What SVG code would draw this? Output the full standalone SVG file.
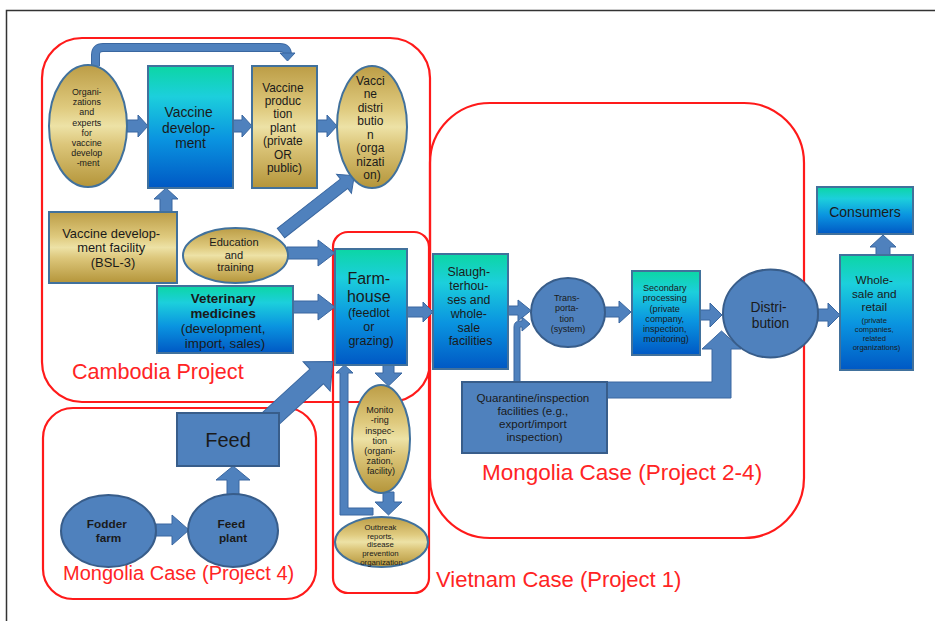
<svg xmlns="http://www.w3.org/2000/svg" width="935" height="621" viewBox="0 0 935 621">
  <defs>
    <linearGradient id="gTeal" x1="0" y1="0" x2="0" y2="1">
      <stop offset="0" stop-color="#0cd6a4"/>
      <stop offset="0.25" stop-color="#1ccfdc"/>
      <stop offset="0.6" stop-color="#0a94e0"/>
      <stop offset="1" stop-color="#0058c4"/>
    </linearGradient>
    <linearGradient id="gGold" x1="0" y1="0" x2="0" y2="1">
      <stop offset="0" stop-color="#bc9d46"/>
      <stop offset="0.35" stop-color="#dfca7e"/>
      <stop offset="0.5" stop-color="#ede2a6"/>
      <stop offset="0.65" stop-color="#dcc67a"/>
      <stop offset="1" stop-color="#b4953a"/>
    </linearGradient>
    <style>
      .frame { fill: none; stroke: #ff1a1a; stroke-width: 2.2; }
      .teal { fill: url(#gTeal); stroke: #41719c; stroke-width: 2; }
      .gold { fill: url(#gGold); stroke: #41719c; stroke-width: 2; }
      .blue { fill: #4f81bd; stroke: #385d8a; stroke-width: 2; }
      .arrow { fill: #4f81bd; stroke: #3a67a0; stroke-width: 1; }
      .t { font-family: "Liberation Sans", Arial, sans-serif; fill: #1a1a1a; text-anchor: middle; }
      .b { font-weight: bold; }
      .lbl { font-family: "Liberation Sans", Arial, sans-serif; fill: #ff2424; }
    </style>
  </defs>

  <rect width="935" height="621" fill="#ffffff"/>
  <!-- page border (top and left only) -->
  <path d="M6.5,621 V10.5 H935" fill="none" stroke="#333333" stroke-width="1.5"/>

  <!-- project / case frames -->
  <g id="frames">
    <rect class="frame" x="42" y="38" width="388" height="364" rx="40"/>
    <rect class="frame" x="333" y="232" width="96" height="361" rx="15"/>
    <rect class="frame" x="430" y="103" width="374" height="435" rx="60"/>
    <rect class="frame" x="43" y="408" width="273" height="191" rx="30"/>
    <text class="lbl" x="72" y="378.5" font-size="21.6">Cambodia Project</text>
    <text class="lbl" x="63" y="580" font-size="20">Mongolia Case (Project 4)</text>
    <text class="lbl" x="482" y="480" font-size="22.5">Mongolia Case (Project 2-4)</text>
    <text class="lbl" x="436" y="587" font-size="22">Vietnam Case (Project 1)</text>
  </g>

  <!-- connectors -->
  <g id="connectors">
    <!-- organizations -> vaccine production plant (bent, over the top) -->
    <path d="M95.5,66 V55 Q95.5,47.5 103,47.5 H280 Q287.5,47.5 287.5,55" fill="none" stroke="#3a67a0" stroke-width="9"/>
    <path d="M95.5,66 V55 Q95.5,47.5 103,47.5 H280 Q287.5,47.5 287.5,55" fill="none" stroke="#4f81bd" stroke-width="7"/>
    <path class="arrow" d="M280,53 H295 L287.5,61 Z"/>
    <!-- organizations -> vaccine development -->
    <path class="arrow" d="M127,120 H138 V115 L148,126 L138,137 V132 H127 Z"/>
    <!-- vaccine development -> production plant -->
    <path class="arrow" d="M233,120 H242 V115 L252,126 L242,137 V132 H233 Z"/>
    <!-- production plant -> vaccine distribution -->
    <path class="arrow" d="M317,120 H327 V115 L337,126 L327,137 V132 H317 Z"/>
    <!-- development facility -> vaccine development -->
    <path class="arrow" d="M160,212 V199 H154 L166,188 L178,199 H172 V212 Z"/>
    <!-- education -> vaccine distribution -->
    <g transform="translate(281,233) rotate(-38)">
      <path class="arrow" d="M0,-6 H80 V-12 L93,0 L80,12 V6 H0 Z"/>
    </g>
    <!-- education -> farmhouse -->
    <path class="arrow" d="M287,247 H318 V240 L335,253 L318,266 V259 H287 Z"/>
    <!-- veterinary medicines -> farmhouse -->
    <path class="arrow" d="M293,301 H318 V294 L335,307 L318,320 V313 H293 Z"/>
    <!-- feed -> farmhouse -->
    <g transform="translate(268,421) rotate(-42.5)">
      <path class="arrow" d="M0,-10 H66 V-20 L88,0 L66,20 V10 H0 Z"/>
    </g>
    <!-- farmhouse -> monitoring -->
    <path class="arrow" d="M383,365 V373 H375 L388.5,386 L402,373 H394 V365 Z"/>
    <!-- monitoring -> outbreak reports -->
    <path class="arrow" d="M383,492 V502 H375 L388.5,515 L402,502 H394 V492 Z"/>
    <!-- outbreak reports -> farmhouse (feedback) -->
    <path class="arrow" d="M373,508 H348 V373 H353 L344.5,365 L336,373 H340 V515 H373 Z"/>
    <!-- fodder farm -> feed plant -->
    <path class="arrow" d="M156,524 H172 V515 L189,530 L172,545 V536 H156 Z"/>
    <!-- feed plant -> feed -->
    <path class="arrow" d="M227,495 V480 H216 L233,466 L250,480 H239 V495 Z"/>
    <!-- farmhouse -> slaughterhouses -->
    <path class="arrow" d="M407,307 H423 V302 L433,312 L423,322 V317 H407 Z"/>
    <!-- slaughterhouses -> transportation -->
    <path class="arrow" d="M508,306 H518 V300 L531,310.5 L518,321 V315 H508 Z"/>
    <!-- quarantine -> transportation -->
    <path class="arrow" d="M514,383 V327 Q514,321 520,321 H522 V317 L530,324 L522,331 V327 H520 V383 Z"/>
    <!-- transportation -> secondary processing -->
    <path class="arrow" d="M605,307 H619 V301 L631,312 L619,323 V317 H605 Z"/>
    <!-- secondary processing -> distribution -->
    <path class="arrow" d="M700,310 H710 V303 L722,315 L710,327 V320 H700 Z"/>
    <!-- quarantine -> distribution -->
    <path class="arrow" d="M607,382 H712 V349 H702 L721.5,331 L741,349 H731 V398 H607 Z"/>
    <!-- distribution -> wholesale -->
    <path class="arrow" d="M818,309 H828 V303 L840,315 L828,327 V321 H818 Z"/>
    <!-- wholesale -> consumers -->
    <path class="arrow" d="M876,256 V247 H870 L883,235 L896,247 H890 V256 Z"/>
  </g>

  <!-- Cambodia project nodes -->
  <g id="organizations">
    <ellipse class="gold" cx="88" cy="126" rx="39" ry="61"/>
    <text class="t" font-size="8.9">
      <tspan x="88" y="95.2">Organi-</tspan>
      <tspan x="88" y="105.3">zations</tspan>
      <tspan x="88" y="115.4">and</tspan>
      <tspan x="88" y="125.5">experts</tspan>
      <tspan x="88" y="135.6">for</tspan>
      <tspan x="88" y="145.7">vaccine</tspan>
      <tspan x="88" y="155.8">develop</tspan>
      <tspan x="88" y="165.9">-ment</tspan>
    </text>
  </g>
  <g id="vaccine-development">
    <rect class="teal" x="148" y="66" width="85" height="122"/>
    <text class="t" font-size="13.8">
      <tspan x="190.5" y="117">Vaccine</tspan>
      <tspan x="190.5" y="132.5">develop-</tspan>
      <tspan x="190.5" y="148">ment</tspan>
    </text>
  </g>
  <g id="vaccine-production-plant">
    <rect class="gold" x="252" y="66" width="65" height="122"/>
    <text class="t" font-size="11.9">
      <tspan x="284.5" y="91.5">Vaccine</tspan>
      <tspan x="284.5" y="104.9">produc</tspan>
      <tspan x="284.5" y="118.3">tion</tspan>
      <tspan x="284.5" y="131.7">plant</tspan>
      <tspan x="284.5" y="145.1">(private</tspan>
      <tspan x="284.5" y="158.5">OR</tspan>
      <tspan x="284.5" y="171.9">public)</tspan>
    </text>
  </g>
  <g id="vaccine-distribution">
    <ellipse class="gold" cx="372" cy="127" rx="35" ry="61"/>
    <text class="t" font-size="12">
      <tspan x="372" y="84.5">Vacci</tspan>
      <tspan x="372" y="98">ne</tspan>
      <tspan x="372" y="111.5">distri</tspan>
      <tspan x="372" y="125">butio</tspan>
      <tspan x="372" y="138.5">n</tspan>
      <tspan x="372" y="152">(orga</tspan>
      <tspan x="372" y="165.5">nizati</tspan>
      <tspan x="372" y="179">on)</tspan>
    </text>
  </g>
  <g id="development-facility">
    <rect class="gold" x="49" y="212" width="128" height="71"/>
    <text class="t" font-size="12.9">
      <tspan x="113" y="237.5">Vaccine develop-</tspan>
      <tspan x="113" y="252">ment facility</tspan>
      <tspan x="113" y="266.5">(BSL-3)</tspan>
    </text>
  </g>
  <g id="education">
    <ellipse class="gold" cx="235.5" cy="255.5" rx="52.5" ry="27.5"/>
    <text class="t" font-size="11.1">
      <tspan x="235.5" y="246">Education</tspan>
      <tspan x="235.5" y="258.5">and</tspan>
      <tspan x="235.5" y="271">training</tspan>
    </text>
  </g>
  <g id="veterinary-medicines">
    <rect class="teal" x="157" y="286" width="136" height="67"/>
    <text class="t" font-size="13.4">
      <tspan class="b" x="225" y="303">Veterinary</tspan>
      <tspan class="b" x="225" y="318">medicines</tspan>
      <tspan x="225" y="333">(development,</tspan>
      <tspan x="225" y="348">import, sales)</tspan>
    </text>
  </g>

  <!-- Vietnam case nodes -->
  <g id="farmhouse">
    <rect class="teal" x="335" y="249" width="72" height="116"/>
    <text class="t">
      <tspan x="371" y="283.5" font-size="16">Farm-</tspan>
      <tspan x="371" y="301.5" font-size="16">house</tspan>
      <tspan x="371" y="316.6" font-size="12.5">(feedlot</tspan>
      <tspan x="371" y="330.6" font-size="12.5">or</tspan>
      <tspan x="371" y="344.6" font-size="12.5">grazing)</tspan>
    </text>
  </g>
  <g id="monitoring">
    <ellipse class="gold" cx="381" cy="439" rx="29" ry="54"/>
    <text class="t" font-size="9">
      <tspan x="381" y="413.2">Monito</tspan>
      <tspan x="381" y="423.4">-ring</tspan>
      <tspan x="381" y="433.6">inspec-</tspan>
      <tspan x="381" y="443.8">tion</tspan>
      <tspan x="381" y="454">(organi-</tspan>
      <tspan x="381" y="464.2">zation,</tspan>
      <tspan x="381" y="474.4">facility)</tspan>
    </text>
  </g>
  <g id="outbreak-reports">
    <ellipse class="gold" cx="381.5" cy="542" rx="46.5" ry="25"/>
    <text class="t" font-size="7.8">
      <tspan x="381.5" y="529.8">Outbreak</tspan>
      <tspan x="381.5" y="538.6">reports,</tspan>
      <tspan x="381.5" y="547.4">disease</tspan>
      <tspan x="381.5" y="556.2">prevention</tspan>
      <tspan x="381.5" y="565">organization</tspan>
    </text>
  </g>

  <!-- Mongolia case (project 4) nodes -->
  <g id="feed">
    <rect class="blue" x="177" y="413" width="102" height="53"/>
    <text class="t" x="228" y="447" font-size="20">Feed</text>
  </g>
  <g id="fodder-farm">
    <ellipse class="blue" cx="108.5" cy="531" rx="47.5" ry="36"/>
    <text class="t b" font-size="11.8">
      <tspan x="108.5" y="528.2">Fodder</tspan>
      <tspan x="108.5" y="541.7">farm</tspan>
    </text>
  </g>
  <g id="feed-plant">
    <ellipse class="blue" cx="233" cy="530.5" rx="45" ry="36.5"/>
    <text class="t b" font-size="11.8">
      <tspan x="233" y="528.2">Feed</tspan>
      <tspan x="233" y="541.7">plant</tspan>
    </text>
  </g>

  <!-- Mongolia case (project 2-4) nodes -->
  <g id="slaughterhouses">
    <rect class="teal" x="433" y="254" width="75" height="115"/>
    <text class="t" font-size="12.3">
      <tspan x="470.5" y="276.3">Slaugh-</tspan>
      <tspan x="470.5" y="290.1">terhou-</tspan>
      <tspan x="470.5" y="303.9">ses and</tspan>
      <tspan x="470.5" y="317.7">whole-</tspan>
      <tspan x="470.5" y="331.5">sale</tspan>
      <tspan x="470.5" y="345.3">facilities</tspan>
    </text>
  </g>
  <g id="transportation">
    <ellipse class="blue" cx="568" cy="312.5" rx="37" ry="34.5"/>
    <text class="t" font-size="9">
      <tspan x="568" y="301">Trans-</tspan>
      <tspan x="568" y="311.3">porta-</tspan>
      <tspan x="568" y="321.6">tion</tspan>
      <tspan x="568" y="331.9">(system)</tspan>
    </text>
  </g>
  <g id="secondary-processing">
    <rect class="teal" x="632" y="271" width="68" height="84"/>
    <text class="t" font-size="9.1">
      <tspan x="666" y="291.2">Secondary</tspan>
      <tspan x="666" y="301.4">processing</tspan>
      <tspan x="666" y="311.6">(private</tspan>
      <tspan x="666" y="321.8">company,</tspan>
      <tspan x="666" y="332">inspection,</tspan>
      <tspan x="666" y="342.2">monitoring)</tspan>
    </text>
  </g>
  <g id="distribution">
    <ellipse class="blue" cx="770.5" cy="313.5" rx="47.5" ry="44"/>
    <text class="t" font-size="13.8">
      <tspan x="770.5" y="312">Distri-</tspan>
      <tspan x="770.5" y="327.5">bution</tspan>
    </text>
  </g>
  <g id="quarantine">
    <rect class="blue" x="462" y="382" width="145" height="71"/>
    <text class="t" font-size="11.6">
      <tspan x="534.5" y="402.2">Quarantine/inspection</tspan>
      <tspan x="534.5" y="415.2">facilities (e.g.,</tspan>
      <tspan x="534.5" y="428.2">export/import</tspan>
      <tspan x="534.5" y="441.2">inspection)</tspan>
    </text>
  </g>
  <g id="wholesale">
    <rect class="teal" x="840" y="255" width="73" height="115"/>
    <text class="t">
      <tspan x="876.5" y="284.2" font-size="11.8">Whole-</tspan>
      <tspan x="876.5" y="298" font-size="11.8">sale and</tspan>
      <tspan x="876.5" y="311.4" font-size="11.8">retail</tspan>
      <tspan x="876.5" y="322.8" font-size="7.6">(private</tspan>
      <tspan x="876.5" y="331.8" font-size="7.6">companies,</tspan>
      <tspan x="876.5" y="340.8" font-size="7.6">related</tspan>
      <tspan x="876.5" y="349.8" font-size="7.6">organizations)</tspan>
    </text>
  </g>
  <g id="consumers">
    <rect class="teal" x="817" y="187" width="96" height="47"/>
    <text class="t" x="865" y="217" font-size="14">Consumers</text>
  </g>
</svg>
